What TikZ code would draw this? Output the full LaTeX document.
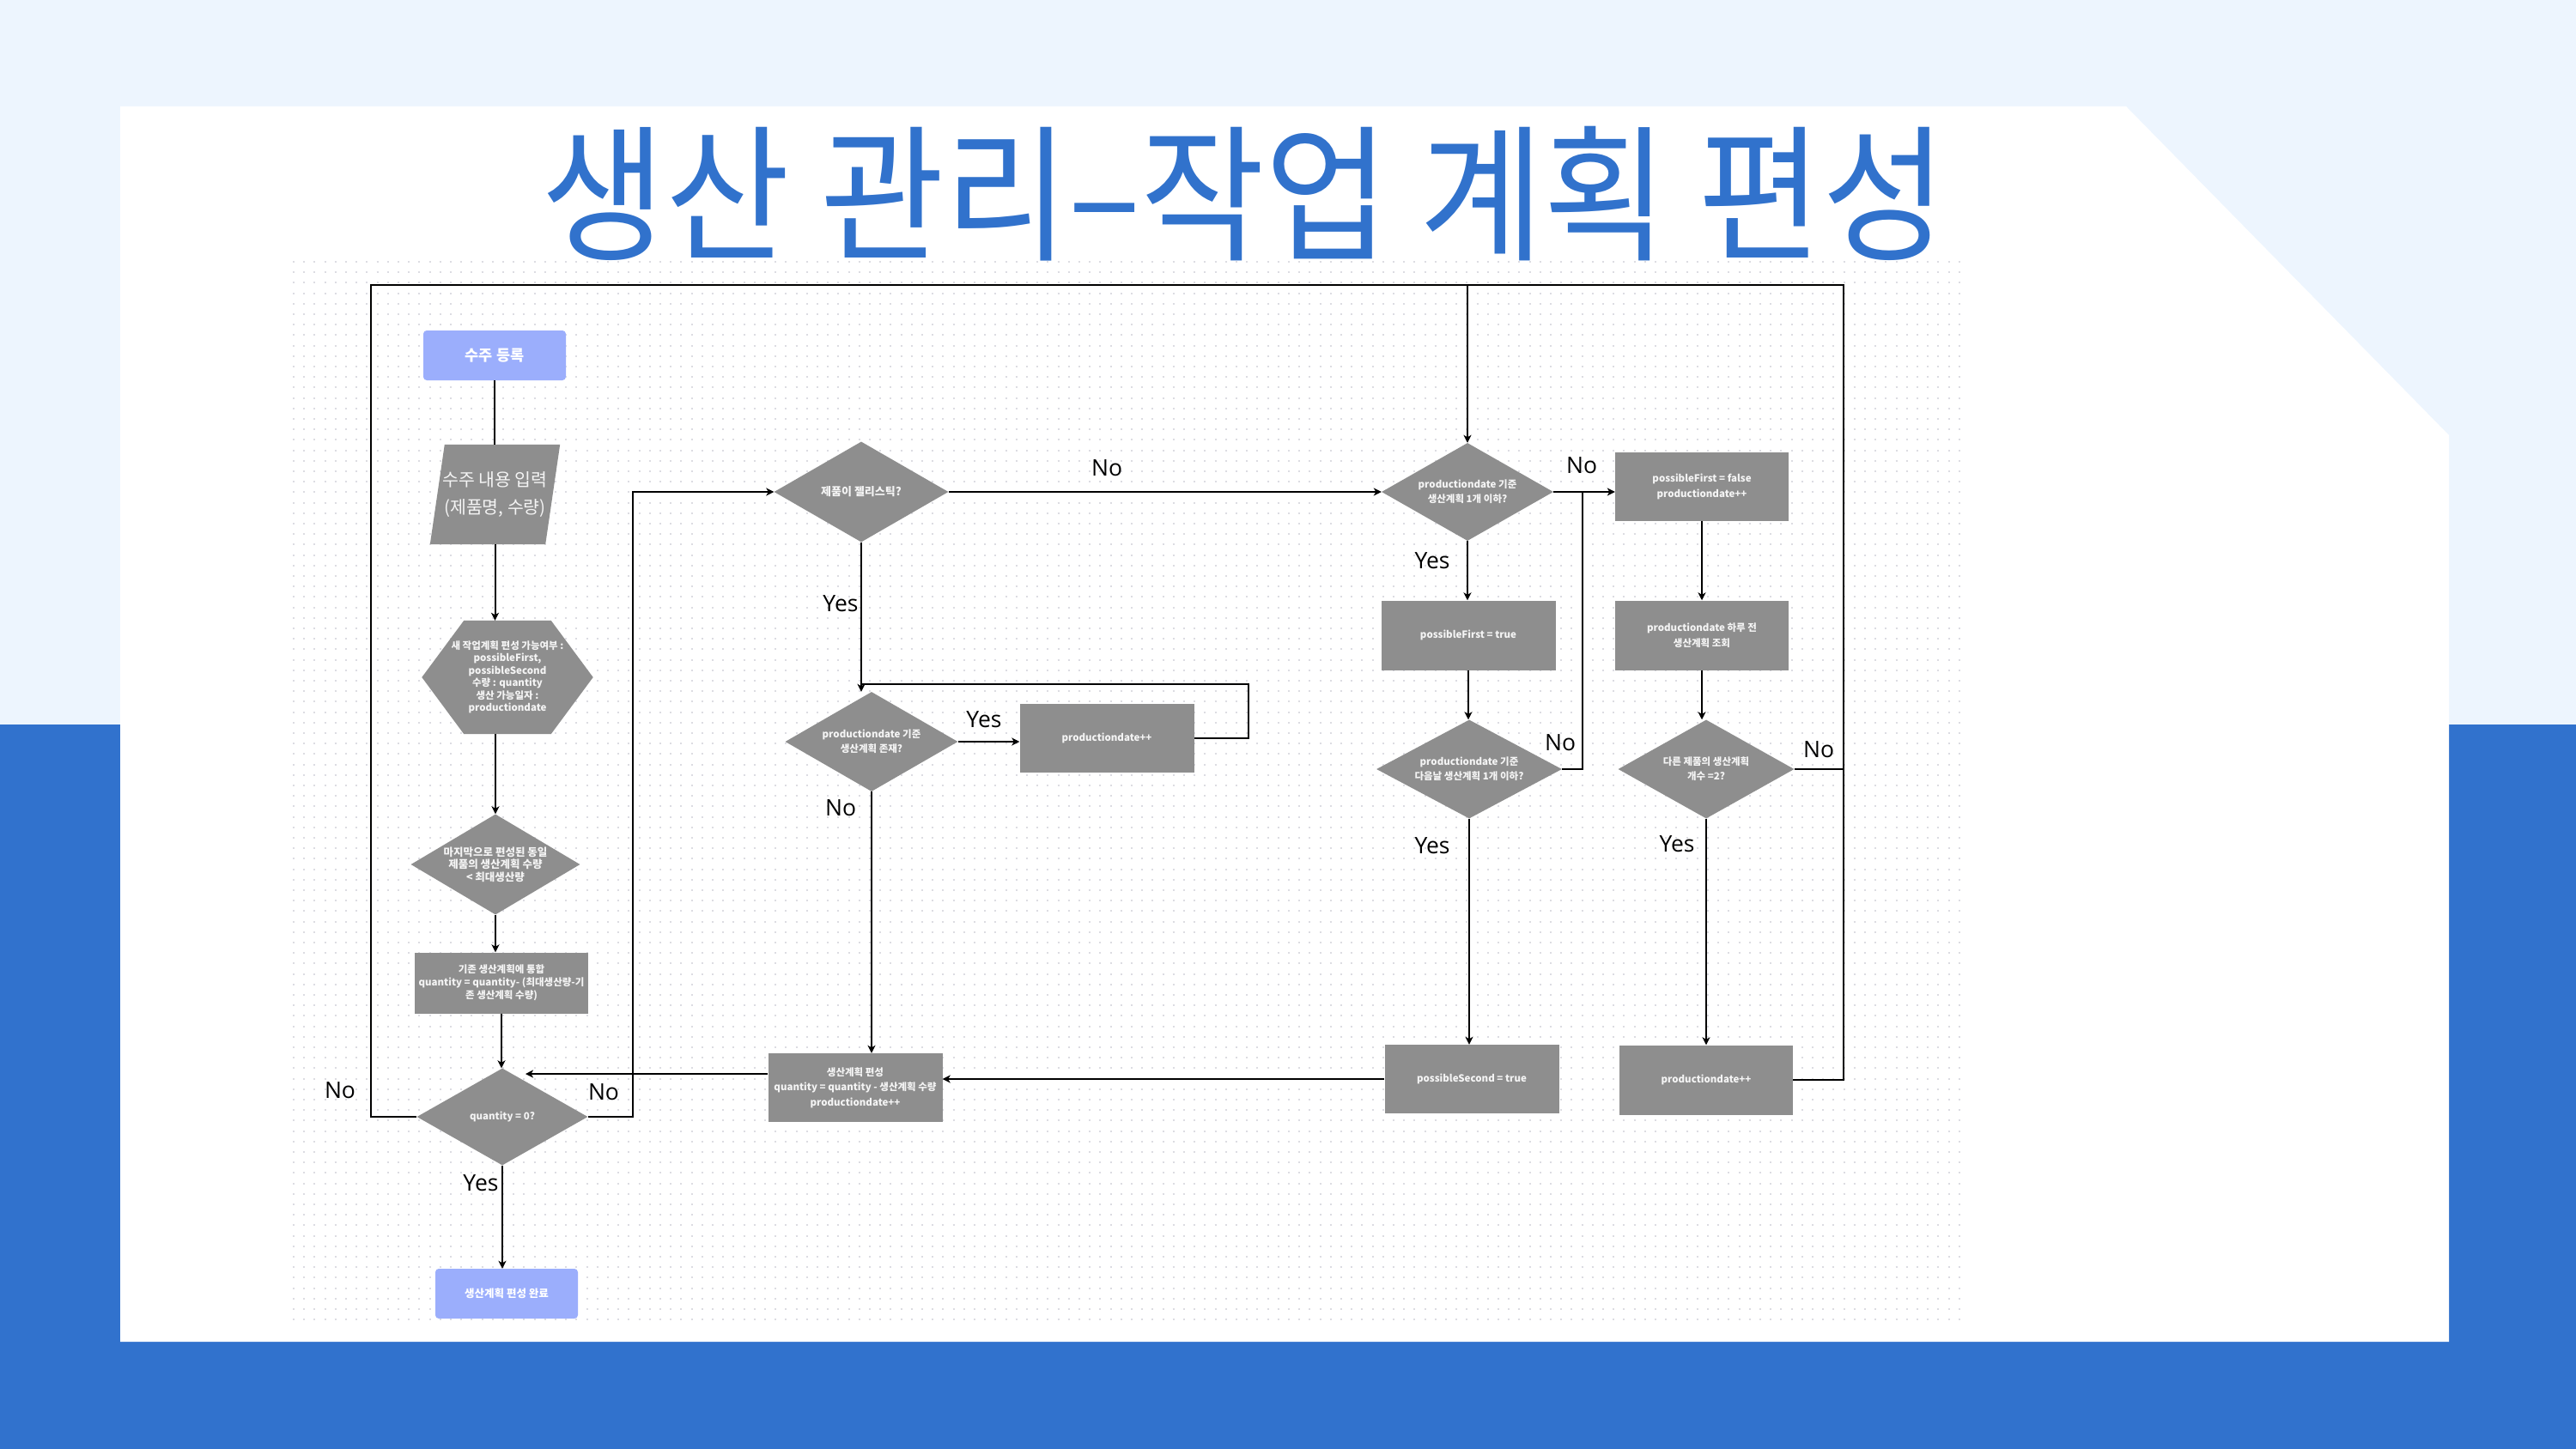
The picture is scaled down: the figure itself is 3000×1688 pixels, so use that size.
\documentclass[tikz,border=0pt]{standalone}
\usepackage{fontspec}
\usepackage{graphicx}
\setmainfont{Noto Sans CJK KR}
\newfontfamily\lblfont{Open Sans}
\newfontfamily\titlefont{Noto Sans CJK KR}
\usetikzlibrary{shapes.geometric,arrows.meta,calc}
\definecolor{lightbg}{HTML}{EDF5FE}
\definecolor{bandblue}{HTML}{3172CD}
\definecolor{titleblue}{HTML}{3172CC}
\definecolor{boxgray}{HTML}{8E8E8E}
\definecolor{boxtext}{HTML}{F4F4F4}
\definecolor{peri}{HTML}{9BAEFC}
\definecolor{dotc}{HTML}{DCDCE2}
\pgfdeclarelayer{bg}
\pgfdeclarelayer{shp}
\pgfsetlayers{bg,shp,main}
\begin{document}
\begin{tikzpicture}[x=1pt,y=-1pt,
  box/.style={rectangle, fill=boxgray, text=boxtext, align=center, inner sep=0pt, font=\bfseries\fontsize{11.5}{17.5}\selectfont},
  dia/.style={diamond, shape aspect=1.75, fill=boxgray, text=boxtext, align=center, inner sep=0pt, font=\bfseries\fontsize{11.5}{17}\selectfont},
  term/.style={rectangle, rounded corners=4pt, fill=peri, text=white, align=center, inner sep=0pt},
  lbl/.style={font=\lblfont\fontsize{26.5}{26.5}\selectfont, text=black, inner sep=0pt},
  ln/.style={line width=2pt, draw=black},
  arr/.style={line width=2pt, draw=black, -{Stealth[length=9pt,width=9pt,inset=2.5pt]}}
]
\useasboundingbox (0,0) rectangle (3000,1688);
\begin{pgfonlayer}{bg}
  \fill[lightbg] (0,0) rectangle (3000,1688);
  \fill[bandblue] (0,844) rectangle (3000,1688);
  \fill[white] (140,124) -- (2476,124) -- (2852,507) -- (2852,1563) -- (140,1563) -- cycle;
  \foreach \i in {0,...,101} {
    \draw[dotc, line width=2pt, dash pattern=on 2pt off 10.2pt] (341,{305+\i*12.2}) -- (2290,{305+\i*12.2});
  }
\end{pgfonlayer}

% title
\node[inner sep=0pt, text=titleblue] (title) at (1449,226)
  {\resizebox{1636pt}{\height}{\titlefont\fontsize{172}{172}\selectfont 생산 관리–작업 계획 편성}};

% left column
\node[term, minimum width=166, minimum height=58, font=\bfseries\fontsize{17.5}{20}\selectfont] (start) at (576,414) {수주 등록};
\node[inner sep=0pt, minimum width=151, minimum height=116, text=boxtext, align=center, font=\fontsize{20.5}{32}\selectfont] (input) at (576.5,576) {수주 내용 입력\\(제품명, 수량)};
\node[inner sep=0pt, minimum width=199, minimum height=132, text=boxtext, align=center, font=\bfseries\fontsize{11.5}{14.5}\selectfont] (hex) at (591,789) {새 작업계획 편성 가능여부 :\\possibleFirst,\\possibleSecond\\수량 : quantity\\생산 가능일자 :\\productiondate};
\node[dia, minimum width=197, minimum height=117, font=\bfseries\fontsize{12.5}{14.5}\selectfont] (d1) at (577,1007) {마지막으로 편성된 동일\\제품의 생산계획 수량\\< 최대생산량};
\node[box, minimum width=202, minimum height=71, font=\bfseries\fontsize{11.5}{15}\selectfont] (merge) at (584,1145) {기존 생산계획에 통합\\quantity = quantity- (최대생산량-기\\존 생산계획 수량)};
\node[dia, minimum width=199, minimum height=113] (dq) at (585,1301) {quantity = 0?};
\node[term, minimum width=166, minimum height=58, font=\bfseries\fontsize{12.5}{14}\selectfont] (fin) at (590,1507) {생산계획 편성 완료};

% middle column
\node[dia, minimum width=203, minimum height=117, font=\bfseries\fontsize{13}{15}\selectfont] (dj) at (1003,573) {제품이 젤리스틱?};
\node[dia, minimum width=201, minimum height=116] (dexist) at (1015,864) {productiondate 기준\\생산계획 존재?};
\node[box, minimum width=203, minimum height=80] (pinc1) at (1289,860) {productiondate++};
\node[box, minimum width=203, minimum height=80] (plan) at (996,1267) {생산계획 편성\\quantity = quantity - 생산계획 수량\\productiondate++};

% right columns
\node[dia, minimum width=200, minimum height=114] (d3) at (1709,573) {productiondate 기준\\생산계획 1개 이하?};
\node[box, minimum width=202, minimum height=80] (pff) at (1982,567) {possibleFirst = false\\productiondate++};
\node[box, minimum width=203, minimum height=81] (pft) at (1710,740) {possibleFirst = true};
\node[box, minimum width=202, minimum height=81] (prev) at (1982,740) {productiondate 하루 전\\생산계획 조회};
\node[dia, minimum width=216, minimum height=115] (d4) at (1711,896) {productiondate 기준\\다음날 생산계획 1개 이하?};
\node[dia, minimum width=205, minimum height=115] (d5) at (1987,896) {다른 제품의 생산계획\\개수 =2?};
\node[box, minimum width=203, minimum height=80] (pst) at (1714,1257) {possibleSecond = true};
\node[box, minimum width=202, minimum height=81] (pinc2) at (1987,1258) {productiondate++};

% custom shapes behind text
\begin{pgfonlayer}{shp}
  \fill[boxgray] ($(hex.north west)+(49,0)$) -- ($(hex.north east)+(-49,0)$) -- (hex.east)
     -- ($(hex.south east)+(-49,0)$) -- ($(hex.south west)+(49,0)$) -- (hex.west) -- cycle;
  \fill[boxgray] ($(input.north west)+(17,0)$) -- (input.north east)
     -- ($(input.south east)+(-17,0)$) -- (input.south west) -- cycle;
\end{pgfonlayer}

% helper coordinates
\coordinate (tl) at (432,332);
\coordinate (tr) at (2147,332);
\coordinate (lx) at (737,0);
\coordinate (qin) at (612,1251);
\coordinate (loopx) at (1454,797);
\coordinate (j3) at (1843,0);

% connectors
\draw[ln] (start.south) -- (start.south |- input.north);
\draw[arr] (input.south) -- (input.south |- hex.north);
\draw[arr] (d1.north |- hex.south) -- (d1.north);
\draw[arr] (d1.south) -- (d1.south |- merge.north);
\draw[arr] (merge.south) -- (merge.south |- dq.north);
\draw[arr] (dq.south) -- (dq.south |- fin.north);
\draw[ln] (dq.west) -| (tl) -- (tr) |- (pinc2.east);
\draw[arr] (d3.north |- tl) -- (d3.north);
\draw[ln] (d5.east) -- (d5.east -| tr);
\draw[arr] (dq.east) -- (dq.east -| lx) |- (dj.west);
\draw[arr] (qin -| plan.west) -- (qin);
\draw[arr] (dj.east) -- (d3.west);
\draw[arr] (dj.south) -- (dj.south |- dexist.north);
\draw[ln] (pinc1.east) -| (loopx) -- (loopx -| dj.south);
\draw[arr] (dexist.east) -- (dexist.east -| pinc1.west);
\draw[arr] (dexist.south) -- (dexist.south |- plan.north);
\draw[arr] (pst.west) -- (pst.west -| plan.east);
\draw[arr] (d3.east) -- (d3.east -| pff.west);
\draw[ln] (d4.east) -- (d4.east -| j3) -- (d3.east -| j3);
\draw[arr] (d3.south) -- (d3.south |- pft.north);
\draw[arr] (pft.south) -- (pft.south |- d4.north);
\draw[arr] (pff.south) -- (pff.south |- prev.north);
\draw[arr] (prev.south) -- (prev.south |- d5.north);
\draw[arr] (d4.south) -- (d4.south |- pst.north);
\draw[arr] (d5.south) -- (d5.south |- pinc2.north);

% labels
\node[lbl] (lNoL) at (396,1270) {No};
\node[lbl] (lNoR) at (703,1272) {No};
\node[lbl] (lYesQ) at (560,1378) {Yes};
\node[lbl] (lNoJ) at (1289,545) {No};
\node[lbl] (lYesJ) at (979,703) {Yes};
\node[lbl] (lYesE) at (1146,838) {Yes};
\node[lbl] (lNoE) at (979,941) {No};
\node[lbl] (lNo3) at (1842,542) {No};
\node[lbl] (lYes3) at (1668,653) {Yes};
\node[lbl] (lNo4) at (1817,865) {No};
\node[lbl] (lYes4) at (1668,985) {Yes};
\node[lbl] (lNo5) at (2118,873) {No};
\node[lbl] (lYes5) at (1953,983) {Yes};
\end{tikzpicture}
\end{document}
